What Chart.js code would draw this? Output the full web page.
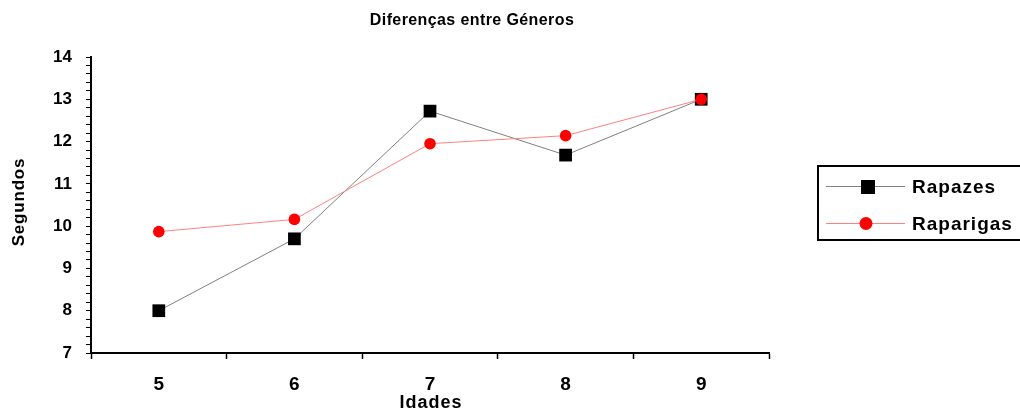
<!DOCTYPE html>
<html><head><meta charset="utf-8">
<script src="https://cdn.jsdelivr.net/npm/chart.js@4/dist/chart.umd.min.js"></script>
<style>html,body{margin:0;padding:0;background:#fff}#wrap{width:1020px;height:414px}</style>
</head><body><div id="wrap"><canvas id="c" width="1020" height="414"></canvas></div>
<script>
const categories = ['5','6','7','8','9'];
const rapazes = [8.0, 9.7, 12.72, 11.68, 13.0];
const raparigas = [9.87, 10.16, 11.95, 12.14, 13.0];
const titleText = 'Diferenças entre Géneros';
const yTitle = 'Segundos';
const xTitle = 'Idades';
const FONT = '"Liberation Sans", Arial, sans-serif';

function spacedText(ctx, text, x, y, spacing) {
  ctx.letterSpacing = spacing + 'px';
  ctx.fillText(text, x, y);
  ctx.letterSpacing = '0px';
}

const overlay = {
  id: 'overlay',
  afterDraw(chart) {
    const ctx = chart.ctx;
    const area = chart.chartArea;
    ctx.save();
    ctx.fillStyle = '#000';
    ctx.textBaseline = 'middle';
    ctx.textAlign = 'center';
    // title
    ctx.font = 'bold 16px ' + FONT;
    spacedText(ctx, titleText, 472, 21, 0.4);
    // x title
    ctx.font = 'bold 18px ' + FONT;
    spacedText(ctx, xTitle, (area.left + area.right) / 2 + 1, 403, 1);
    // y title
    ctx.save();
    ctx.translate(19, 202);
    ctx.rotate(-Math.PI / 2);
    ctx.font = 'bold 17px ' + FONT;
    spacedText(ctx, yTitle, 0, 0, 0.8);
    ctx.restore();
    // legend
    ctx.strokeStyle = '#000';
    ctx.lineWidth = 2;
    ctx.strokeRect(818, 166, 210, 74);
    ctx.lineWidth = 1;
    ctx.strokeStyle = '#808080';
    ctx.beginPath(); ctx.moveTo(826, 186.5); ctx.lineTo(905, 186.5); ctx.stroke();
    ctx.fillStyle = '#000';
    ctx.fillRect(861, 180, 14, 14);
    ctx.strokeStyle = '#ff8080';
    ctx.beginPath(); ctx.moveTo(826, 223.5); ctx.lineTo(905, 223.5); ctx.stroke();
    ctx.fillStyle = '#ff0000';
    ctx.beginPath(); ctx.arc(866, 223.5, 6.5, 0, Math.PI * 2); ctx.fill();
    ctx.fillStyle = '#000';
    ctx.font = 'bold 19px ' + FONT;
    ctx.textAlign = 'left';
    spacedText(ctx, 'Rapazes', 912, 188, 1);
    spacedText(ctx, 'Raparigas', 912, 225, 1);
    ctx.restore();
  }
};

new Chart(document.getElementById('c'), {
  type: 'line',
  data: {
    labels: categories,
    datasets: [
      { label: 'Rapazes', data: rapazes, order: 1, borderColor: '#808080', borderWidth: 1,
        pointStyle: 'rect', pointRadius: 9, pointBackgroundColor: '#000', pointBorderColor: '#000', pointBorderWidth: 0, tension: 0 },
      { label: 'Raparigas', data: raparigas, order: 0, borderColor: '#ff8080', borderWidth: 1,
        pointStyle: 'circle', pointRadius: 5.8, pointBackgroundColor: '#ff0000', pointBorderColor: '#ff0000', pointBorderWidth: 0, tension: 0 }
    ]
  },
  options: {
    responsive: false, animation: false,
    layout: { padding: { left: 0, right: 251, top: 57, bottom: 0 } },
    plugins: { legend: { display: false }, title: { display: false }, tooltip: { enabled: false } },
    scales: {
      x: {
        offset: true,
        grid: { offset: true, drawOnChartArea: false, color: '#000', tickLength: 6, tickWidth: 1.5 },
        border: { color: '#000', width: 2 },
        ticks: { color: '#000', font: { family: FONT, size: 19, weight: 'bold' }, padding: 14, maxRotation: 0 },
        afterFit(s) { s.height = 61; }
      },
      y: {
        min: 7, max: 14,
        grid: { drawOnChartArea: false, color: '#000', tickLength: 5, tickWidth: 1 },
        border: { color: '#000', width: 2 },
        ticks: { stepSize: 0.2, autoSkip: false, color: '#000', padding: 14,
          font: { family: FONT, size: 17, weight: 'bold' },
          callback(v) { return Math.abs(v - Math.round(v)) < 1e-6 ? String(Math.round(v)) : ''; } },
        afterFit(s) { s.width = 91; }
      }
    }
  },
  plugins: [overlay]
});
</script></body></html>
